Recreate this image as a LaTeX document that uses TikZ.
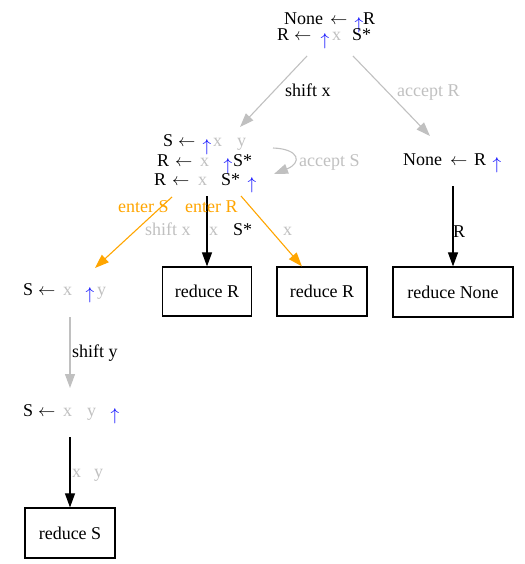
\documentclass[tikz,border=0pt]{standalone}
\usepackage{fontspec}
\setmainfont{Liberation Serif}
\usetikzlibrary{arrows.meta,calc}
\definecolor{lgray}{RGB}{192,192,192}
\definecolor{gvorange}{RGB}{255,165,0}
\begin{document}
\begin{tikzpicture}[x=1pt,y=-1pt,
 t/.style={inner sep=0pt, anchor=base west, font=\fontsize{18}{22}\selectfont},
 g/.style={t, text=lgray},
 o/.style={t, text=gvorange},
 la/.style={inner sep=0pt, anchor=base west, font=\fontsize{18}{22}\selectfont},
 up/.style={inner sep=0pt, anchor=center, text=blue, font=\fontsize{16}{18}\selectfont},
 box/.style={draw, line width=1.2pt, inner sep=0pt, font=\fontsize{18}{22}\selectfont},
 edge/.style={line width=1.1pt, -{Triangle[length=14pt,width=10pt]}},
]
\useasboundingbox (0,0) rectangle (524,564);
% state A
\node[t] (a1n) at (284,25) {None};
\node[la] (a1l) at (330,25) {$\leftarrow$};
\node[up] (a1u) at (359,25) {$\uparrow$};
\node[t] (a1r) at (363,25) {R};
\node[t] (a2r) at (277,41) {R};
\node[la] (a2l) at (294,41) {$\leftarrow$};
\node[up] (a2u) at (325,41) {$\uparrow$};
\node[g] (a2x) at (332,41) {x};
\node[t] (a2s) at (352,41) {S*};
% state B
\node[t] (b1s) at (163,147) {S};
\node[la] (b1l) at (178,147) {$\leftarrow$};
\node[up] (b1u) at (207,147) {$\uparrow$};
\node[g] (b1x) at (213,147) {x};
\node[g] (b1y) at (237,147) {y};
\node[t] (b2r) at (157,166) {R};
\node[la] (b2l) at (175,166) {$\leftarrow$};
\node[g] (b2x) at (200,166) {x};
\node[up] (b2u) at (228,166) {$\uparrow$};
\node[t] (b2s) at (233,166) {S*};
\node[t] (b3r) at (154,185) {R};
\node[la] (b3l) at (172,185) {$\leftarrow$};
\node[g] (b3x) at (198,185) {x};
\node[t] (b3s) at (221,185) {S*};
\node[up] (b3u) at (252,185) {$\uparrow$};
% state D
\node[t] (d1n) at (403,165) {None};
\node[la] (d1l) at (450,165) {$\leftarrow$};
\node[t] (d1r) at (474,165) {R};
\node[up] (d1u) at (497,165) {$\uparrow$};
% state C
\node[t] (c1s) at (23,295) {S};
\node[la] (c1l) at (38,295) {$\leftarrow$};
\node[g] (c1x) at (63,295) {x};
\node[up] (c1u) at (90,295) {$\uparrow$};
\node[g] (c1y) at (97,295) {y};
% state E
\node[t] (e1s) at (23,416) {S};
\node[la] (e1l) at (38,416) {$\leftarrow$};
\node[g] (e1x) at (63,416) {x};
\node[g] (e1y) at (87,416) {y};
\node[up] (e1u) at (115,416) {$\uparrow$};
% boxes
\node[box, minimum width=89pt, minimum height=49pt] (rr1) at (207,291.5) {reduce R};
\node[box, minimum width=90pt, minimum height=49pt] (rr2) at (322,291.5) {reduce R};
\node[box, minimum width=120pt, minimum height=50pt] (rn) at (453,292) {reduce None};
\node[box, minimum width=90pt, minimum height=50pt] (rs) at (70,533) {reduce S};
% connector end points
\coordinate (Aleft) at (307,56);
\coordinate (Aright) at (353,56);
\coordinate (Bin) at (240,127);
\coordinate (Din) at (430,136);
\coordinate (Bloop) at (273,148);
\coordinate (Bloopin) at (274,174);
\coordinate (Bsw) at (172,197);
\coordinate (Bs) at (207,196);
\coordinate (Bse) at (241,196);
\coordinate (Cin) at (95,268);
\coordinate (Dout) at (453,186);
\coordinate (Cout) at (70,317);
\coordinate (Ein) at (70,388);
\coordinate (Eout) at (70,437);
% connectors
\draw[edge, lgray] (Aleft) -- (Bin);
\draw[edge, lgray] (Aright) -- (Din);
\draw[edge, lgray] (Bloop) .. controls (300,149) and (302,163) .. (Bloopin);
\draw[edge, gvorange] (Bsw) -- (Cin);
\draw[edge, black] (Bs) -- (rr1.north);
\draw[edge, gvorange] (Bse) -- ($(rr2.north west)!0.28!(rr2.north east)$);
\draw[edge, black] (Dout) -- (rn.north);
\draw[edge, lgray] (Cout) -- (Ein);
\draw[edge, black] (Eout) -- (rs.north);
% edge labels
\node[t] (lshx) at (285,97) {shift x};
\node[g] (lacR) at (397,97) {accept R};
\node[g] (lacS) at (299,166) {accept S};
\node[o] (lenS) at (118,212) {enter S};
\node[o] (lenR) at (185,212) {enter R};
\node[g] (lshx2) at (145,235) {shift x};
\node[g] (lx1) at (209,235) {x};
\node[t] (lS1) at (233,235) {S*};
\node[g] (lx2) at (283,235) {x};
\node[t] (lR) at (453,237) {R};
\node[t] (lshy) at (72,357) {shift y};
\node[g] (lx3) at (72,477) {x};
\node[g] (ly3) at (94,477) {y};
\end{tikzpicture}
\end{document}
